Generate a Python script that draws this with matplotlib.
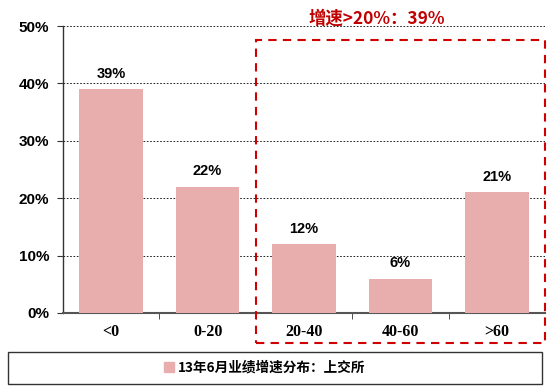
import matplotlib
matplotlib.use("Agg")
import matplotlib.pyplot as plt
from matplotlib.patches import Rectangle, Patch
from matplotlib.ticker import FuncFormatter, MultipleLocator

categories = ["<0", "0-20", "20-40", "40-60", ">60"]
values = [39, 22, 12, 6, 21]
series_name = "13年6月业绩增速分布：上交所"
annotation = "增速>20%：39%"

W, H = 550, 388
fig = plt.figure(figsize=(W/100, H/100), dpi=100)
fig.patch.set_facecolor("white")

def fx(x): return x / W
def fy(y): return 1 - y / H

ax = fig.add_axes([fx(63), fy(313), fx(545) - fx(63), fy(26) - fy(313)])
bar_color = "#E8AEAE"
x = list(range(len(categories)))
bars = ax.bar(x, values, width=0.66, color=bar_color, zorder=3)
ax.set_xlim(-0.5, len(categories) - 0.5)
ax.set_ylim(0, 50)
ax.yaxis.set_major_locator(MultipleLocator(10))
ax.yaxis.set_major_formatter(FuncFormatter(lambda v, p: f"{int(v)}%"))
ax.grid(axis="y", color="black", linestyle=(0, (2, 2)), linewidth=0.6, zorder=1)
for s in ["top", "right"]:
    ax.spines[s].set_visible(False)
ax.spines["left"].set_color("#333333")
ax.spines["bottom"].set_color("#555555")
ax.spines["left"].set_linewidth(1.0)
ax.spines["bottom"].set_linewidth(1.5)

ax.set_xticks(x)
ax.set_xticklabels(categories, fontfamily="Liberation Serif", fontweight="bold", fontsize=11.5)
ax.tick_params(axis="x", length=0, pad=8)
ax.set_xticks([i + 0.5 for i in range(len(categories) - 1)], minor=True)
ax.tick_params(axis="x", which="minor", length=4, direction="out", color="#333333")
ax.tick_params(axis="y", length=4, direction="out", color="#333333", pad=6)
for lab in ax.get_yticklabels():
    lab.set_fontfamily("Liberation Sans")
    lab.set_fontweight("bold")
    lab.set_fontsize(11)

for xi, v in zip(x, values):
    ax.annotate(f"{v}%", (xi, v), xytext=(0, 6), textcoords="offset points",
                ha="center", va="bottom", fontsize=10.5, fontweight="bold",
                fontfamily="Liberation Sans")

# red dashed highlight box
rect = Rectangle((fx(256), fy(343)), fx(545) - fx(256), fy(40) - fy(343),
                 transform=fig.transFigure, fill=False, edgecolor="#D00000",
                 linestyle=(0, (4, 3)), linewidth=1.5, zorder=10)
fig.patches.append(rect)
fig.text(fx(377), fy(19), annotation, ha="center", va="center", color="#C00000",
         fontsize=12.5, fontweight="bold",
         fontfamily=["Noto Sans CJK SC", "DejaVu Sans"])

# legend box
box = Rectangle((fx(8), fy(384)), fx(542) - fx(8), fy(352) - fy(384),
                transform=fig.transFigure, fill=False, edgecolor="#333333",
                linewidth=1.0)
fig.patches.append(box)
leg = fig.legend(handles=[Patch(color=bar_color, label=series_name)],
                 loc="center", bbox_to_anchor=(fx(265), fy(368)), frameon=False,
                 handlelength=0.7, handleheight=0.7, handletextpad=0.3,
                 prop={"family": ["Noto Sans CJK SC", "DejaVu Sans"], "weight": "bold", "size": 9.8})

fig.savefig("out.png", dpi=100)
